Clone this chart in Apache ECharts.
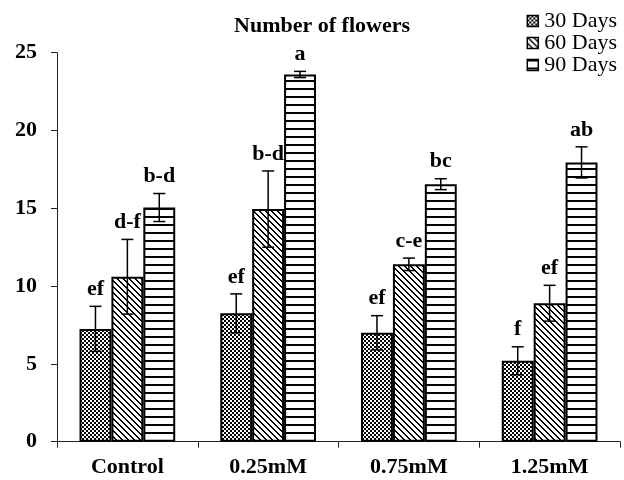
<!DOCTYPE html>
<html>
<head>
<meta charset="utf-8">
<script src="https://cdn.jsdelivr.net/npm/echarts@6/dist/echarts.min.js"></script>
<style>html,body{margin:0;padding:0;background:#fff}#chart{width:624px;height:480px}</style>
</head>
<body>
<div id="chart"></div>
<script>
const categories = ['Control', '0.25mM', '0.75mM', '1.25mM'];
const seriesNames = ['30 Days', '60 Days', '90 Days'];
const days30 = [7.25, 8.25, 7.0, 5.2];
const days60 = [10.6, 14.95, 11.4, 8.9];
const days90 = [15.05, 23.6, 16.55, 17.95];
const err30 = [1.45, 1.25, 1.1, 0.9];
const err60 = [2.4, 2.45, 0.4, 1.15];
const err90 = [0.9, 0.2, 0.35, 1.0];
const letters30 = ['ef', 'ef', 'ef', 'f'];
const letters60 = ['d-f', 'b-d', 'c-e', 'ef'];
const letters90 = ['b-d', 'a', 'bc', 'ab'];
const yMax = 25;
const yInterval = 5;

const values = [days30, days60, days90];
const errors = [err30, err60, err90];
const letters = [letters30, letters60, letters90];

const FONT = '"Liberation Serif", "Times New Roman", serif';
const CAT_GAP = 0.32;

function makePattern(kind) {
  const c = document.createElement('canvas');
  let w, h;
  if (kind === 0) { w = 4; h = 4; }
  else if (kind === 1) { w = 6; h = 6; }
  else { w = 4; h = 8; }
  c.width = w; c.height = h;
  const ctx = c.getContext('2d');
  const img = ctx.createImageData(w, h);
  for (let y = 0; y < h; y++) {
    for (let x = 0; x < w; x++) {
      let black;
      if (kind === 0) black = ((Math.floor(x / 2) + Math.floor(y / 2)) % 2) === 0;
      else if (kind === 1) black = (((x - y) % 6) + 6) % 6 < 2;
      else black = y < 2;
      const i = (y * w + x) * 4;
      const v = black ? 0 : 255;
      img.data[i] = v; img.data[i + 1] = v; img.data[i + 2] = v; img.data[i + 3] = 255;
    }
  }
  ctx.putImageData(img, 0, 0);
  return { image: c, repeat: 'repeat' };
}

const patterns = [makePattern(0), makePattern(1), makePattern(2)];

const series = [];
seriesNames.forEach(function (name, k) {
  series.push({
    name: name,
    type: 'bar',
    data: values[k],
    barGap: '0%',
    barCategoryGap: (CAT_GAP * 100) + '%',
    itemStyle: { color: patterns[k], borderColor: '#000', borderWidth: 2 },
    emphasis: { disabled: true },
    z: 2
  });
});
seriesNames.forEach(function (name, k) {
  series.push({
    name: name + ' err',
    type: 'custom',
    z: 5,
    clip: false,
    silent: true,
    data: values[k].map(function (v, i) { return [i, v, errors[k][i]]; }),
    encode: { x: 0, y: 1 },
    renderItem: function (params, api) {
      const ci = api.value(0);
      const v = api.value(1);
      const e = api.value(2);
      const band = api.size([1, 0])[0];
      const bw = band * (1 - CAT_GAP) / 3;
      const cx = api.coord([ci, 0])[0] + (k - 1) * bw;
      const top = api.coord([ci, v + e])[1];
      const bot = api.coord([ci, v - e])[1];
      const cap = 6;
      const ls = { stroke: '#000', lineWidth: 1.5 };
      return {
        type: 'group',
        children: [
          { type: 'line', shape: { x1: cx, y1: top, x2: cx, y2: bot }, style: ls },
          { type: 'line', shape: { x1: cx - cap, y1: top, x2: cx + cap, y2: top }, style: ls },
          { type: 'line', shape: { x1: cx - cap, y1: bot, x2: cx + cap, y2: bot }, style: ls },
          {
            type: 'text',
            style: {
              x: cx, y: top - 6,
              text: letters[k][params.dataIndex],
              align: 'center', verticalAlign: 'bottom',
              font: 'bold 22px ' + FONT,
              fill: '#000'
            }
          }
        ]
      };
    }
  });
});

const chart = echarts.init(document.getElementById('chart'), null, { renderer: 'canvas' });
chart.setOption({
  animation: false,
  backgroundColor: '#fff',
  title: {
    text: 'Number of flowers',
    left: 317, textAlign: 'center',
    top: 10,
    textStyle: { fontFamily: FONT, fontWeight: 'bold', fontSize: 22, color: '#000' }
  },
  legend: {
    data: seriesNames,
    orient: 'vertical',
    right: 2,
    top: 5,
    itemWidth: 11,
    itemHeight: 11,
    itemGap: 0,
    icon: 'rect',
    textStyle: { fontFamily: FONT, fontSize: 22, color: '#000', padding: [0, 0, 0, 1] },
    itemStyle: { borderColor: '#000', borderWidth: 1.5 }
  },
  grid: { left: 57, right: 4, top: 52.7, bottom: 38.3, containLabel: false },
  xAxis: {
    type: 'category',
    data: categories,
    axisLine: { lineStyle: { color: '#222', width: 1 } },
    axisTick: { show: true, length: 6, alignWithLabel: false, lineStyle: { color: '#222' } },
    axisLabel: { fontFamily: FONT, fontWeight: 'bold', fontSize: 22, color: '#000', margin: 15 }
  },
  yAxis: {
    type: 'value',
    min: 0, max: yMax, interval: yInterval,
    axisLine: { show: true, lineStyle: { color: '#222', width: 1 } },
    axisTick: { show: true, length: 6, lineStyle: { color: '#222' } },
    splitLine: { show: false },
    axisLabel: { fontFamily: FONT, fontWeight: 'bold', fontSize: 22, color: '#000', margin: 20 }
  },
  series: series
});
</script>
</body>
</html>
